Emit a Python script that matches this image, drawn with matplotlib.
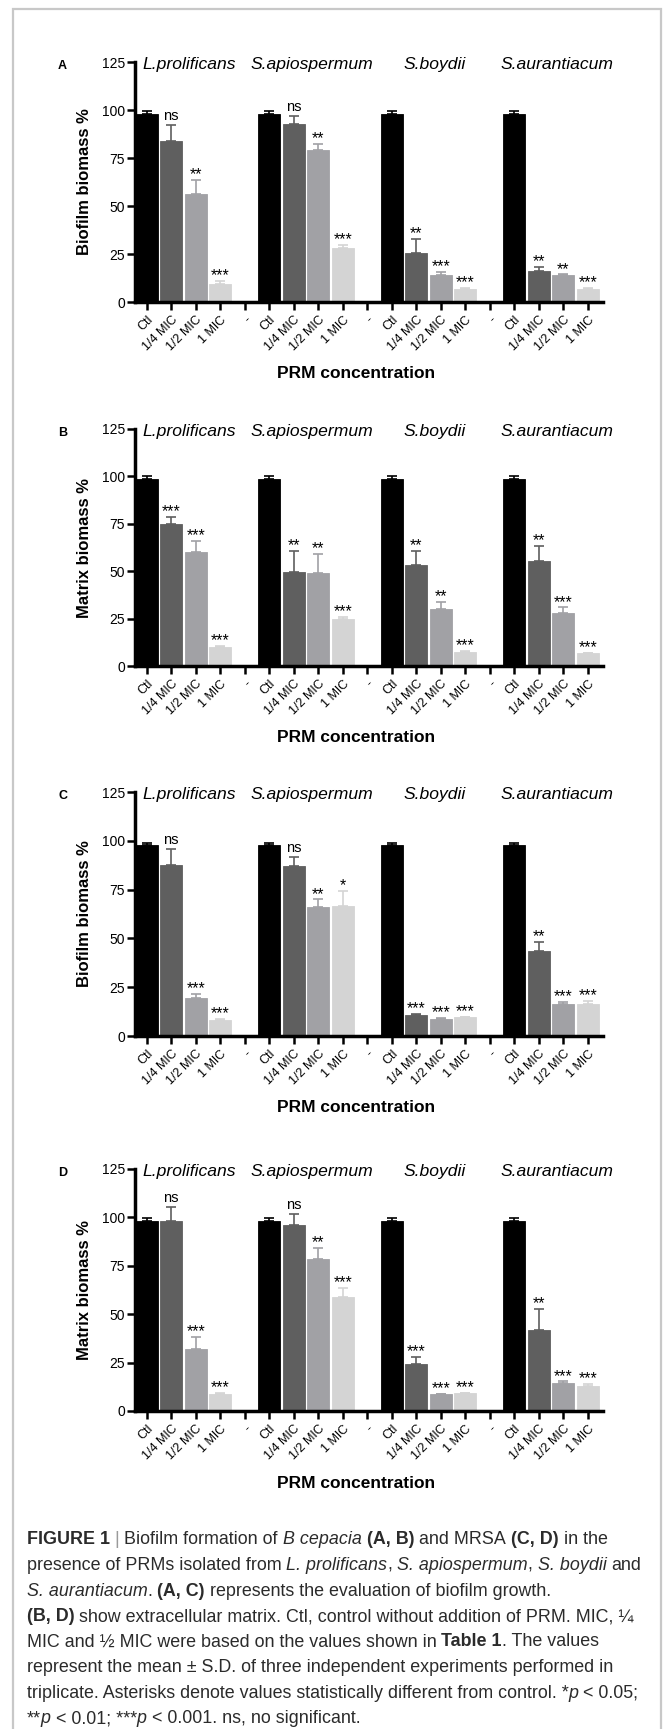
import matplotlib
matplotlib.use("Agg")
import matplotlib.pyplot as plt
from matplotlib.patches import Rectangle

plt.rcParams['font.family'] = ['Liberation Sans', 'DejaVu Sans']

W, H = 663, 1729

species = ["L.prolificans", "S.apiospermum", "S.boydii", "S.aurantiacum"]
conc = ["Ctl", "1/4 MIC", "1/2 MIC", "1 MIC"]
tick_labels = conc + ["-"] + conc + ["-"] + conc + ["-"] + conc
bar_colors = ["#000000", "#5f5f5f", "#a1a1a5", "#d4d4d4"]

# A: biofilm, B. cepacia
a_mean = [[97.7, 83.7, 56.1, 9.5], [97.7, 92.9, 79.3, 28.3],
          [97.7, 25.7, 14.2, 6.9], [97.7, 16.1, 13.9, 6.9]]
a_err = [[1.6, 8.7, 7.6, 1.3], [1.6, 3.8, 3.2, 1.6],
         [1.6, 7.3, 1.4, 0.4], [1.6, 2.1, 0.5, 0.3]]
a_sig = [["", "ns", "**", "***"], ["", "ns", "**", "***"],
         ["", "**", "***", "***"], ["", "**", "**", "***"]]

# B: matrix, B. cepacia
b_mean = [[98.6, 74.9, 60.3, 10.0], [98.6, 49.7, 49.0, 24.7],
          [98.6, 53.1, 30.1, 7.4], [98.6, 55.4, 27.7, 6.7]]
b_err = [[1.4, 3.6, 5.6, 0.4], [1.4, 11.1, 9.9, 1.2],
         [1.4, 7.4, 3.8, 0.4], [1.4, 7.9, 3.2, 0.4]]
b_sig = [["", "***", "***", "***"], ["", "**", "**", "***"],
         ["", "**", "**", "***"], ["", "**", "***", "***"]]

# C: biofilm, MRSA
c_mean = [[97.6, 87.7, 19.5, 8.4], [97.6, 87.2, 66.1, 66.4],
          [97.6, 11.0, 8.9, 9.6], [97.6, 43.5, 16.4, 16.4]]
c_err = [[1.5, 8.0, 1.9, 0.5], [1.5, 4.4, 3.9, 8.1],
         [1.5, 0.2, 0.2, 0.2], [1.5, 4.6, 1.1, 1.6]]
c_sig = [["", "ns", "***", "***"], ["", "ns", "**", "*"],
         ["", "***", "***", "***"], ["", "**", "***", "***"]]

# D: matrix, MRSA
d_mean = [[98.3, 98.3, 32.2, 8.8], [98.3, 96.2, 78.3, 59.1],
          [98.3, 24.1, 8.6, 9.3], [98.3, 42.0, 14.3, 13.1]]
d_err = [[1.6, 7.2, 6.2, 0.7], [1.6, 5.7, 6.1, 4.4],
         [1.6, 4.0, 0.2, 0.2], [1.6, 10.9, 1.0, 0.8]]
d_sig = [["", "ns", "***", "***"], ["", "ns", "**", "***"],
         ["", "***", "***", "***"], ["", "**", "***", "***"]]

panels = [
    ("A", "Biofilm biomass %", a_mean, a_err, a_sig, 62, 302),
    ("B", "Matrix biomass %", b_mean, b_err, b_sig, 429, 666),
    ("C", "Biofilm biomass %", c_mean, c_err, c_sig, 792, 1036),
    ("D", "Matrix biomass %", d_mean, d_err, d_sig, 1169, 1411),
]

fig = plt.figure(figsize=(W / 100, H / 100), dpi=100)

# light grey frame round the figure panels
fig.patches.append(Rectangle((12.7 / W, -0.01), (661 - 12.7) / W, 1 - 9 / H + 0.01,
                             transform=fig.transFigure, fill=False,
                             edgecolor="#c8c8c8", linewidth=1.6))

left, right = 134.5, 602.5
for letter, ylab, means, errs, sigs, ytop, ybot in panels:
    ax = fig.add_axes([left / W, 1 - ybot / H, (right - left) / W, (ybot - ytop) / H])
    for g in range(4):
        for k in range(4):
            x = g * 5 + k
            m = means[g][k]
            e = errs[g][k]
            col = bar_colors[k]
            ax.bar(x, m, width=0.9, color=col, edgecolor=col, linewidth=0.6, zorder=2)
            ax.errorbar(x, m, yerr=[[0], [e]], fmt="none", ecolor=col,
                        elinewidth=1.2, capsize=3.6, capthick=1.2, zorder=1)
            s = sigs[g][k]
            if s:
                if "*" in s:
                    ax.annotate(s, (x, m + e), xytext=(0, 0.5), textcoords="offset points",
                                ha="center", va="baseline", fontsize=11.5)
                else:
                    ax.annotate(s, (x, m + e), xytext=(0, 3.5), textcoords="offset points",
                                ha="center", va="baseline", fontsize=10.5)
        ax.text(g * 5 + 1.75, 123.5, species[g], ha="center", va="center",
                fontsize=12.6, fontstyle="italic")

    ax.set_xlim(-0.5, 18.6)
    ax.set_ylim(0, 125)
    ax.set_yticks([0, 25, 50, 75, 100, 125])
    ax.set_xticks(range(19))
    ax.set_xticklabels(tick_labels, rotation=45, ha="right", rotation_mode="anchor",
                       fontsize=9)
    ax.tick_params(axis="both", width=1.8, length=5.5, labelsize=10, pad=1.5)
    ax.tick_params(axis="x", labelsize=9, pad=3)
    for sp in ["top", "right"]:
        ax.spines[sp].set_visible(False)
    for sp in ["left", "bottom"]:
        ax.spines[sp].set_linewidth(2.5)

    ax.set_ylabel(ylab, fontsize=12, fontweight="bold")
    ax.yaxis.set_label_coords((84.6 - left) / (right - left), 0.5)
    ax.set_xlabel("PRM concentration", fontsize=12.5, fontweight="bold")
    ax.xaxis.set_label_coords((356.4 - left) / (right - left), -72 / (ybot - ytop))
    ax.xaxis.label.set_va("center")
    ax.yaxis.label.set_va("center")

    fig.text(62.6 / W, 1 - (ytop + 4) / H, letter, fontsize=9, fontweight="bold",
             ha="center", va="center")

# caption with mixed styles
caption = [
    [("FIGURE 1", "b"), (" | ", ""), ("Biofilm formation of ", ""), ("B cepacia", "i"),
     (" ", ""), ("(A, B)", "b"), (" and MRSA ", ""), ("(C, D)", "b"), (" in the", "")],
    [("presence of PRMs isolated from ", ""), ("L. prolificans", "i"), (", ", ""),
     ("S. apiospermum", "i"), (", ", ""), ("S. boydii", "i"), (" and", "")],
    [("S. aurantiacum", "i"), (". ", ""), ("(A, C)", "b"),
     (" represents the evaluation of biofilm growth.", "")],
    [("(B, D)", "b"), (" show extracellular matrix. Ctl, control without addition of PRM. MIC, \u00bc", "")],
    [("MIC and \u00bd MIC were based on the values shown in ", ""), ("Table 1", "b"),
     (". The values", "")],
    [("represent the mean \u00b1 S.D. of three independent experiments performed in", "")],
    [("triplicate. Asterisks denote values statistically different from control. *", ""),
     ("p", "i"), (" < 0.05;", "")],
    [("**", ""), ("p", "i"), (" < 0.01; ***", ""), ("p", "i"), (" < 0.001. ns, no significant.", "")],
]
caption_y = [1540, 1565.5, 1591, 1616.5, 1642, 1667.5, 1693, 1718.5]

renderer = fig.canvas.get_renderer()
cap_size = 12.9


def width_of(txt, style):
    t = fig.text(0, 0, txt, fontsize=cap_size,
                 fontweight="bold" if "b" in style else "normal",
                 fontstyle="italic" if "i" in style else "normal")
    w = t.get_window_extent(renderer=renderer).width
    t.remove()
    return w


space_w = width_of("a a", "") - width_of("aa", "")

for segs, yy in zip(caption, caption_y):
    x = 26.7
    for txt, style in segs:
        core = txt.strip(" ")
        if not core:
            x += len(txt) * space_w
            continue
        lead = len(txt) - len(txt.lstrip(" "))
        trail = len(txt) - len(txt.rstrip(" "))
        x += lead * space_w
        col = "#9a9a9a" if core == "|" else "#2b2b2b"
        fig.text(x / W, 1 - yy / H, core, fontsize=cap_size, color=col,
                 fontweight="bold" if "b" in style else "normal",
                 fontstyle="italic" if "i" in style else "normal",
                 ha="left", va="center")
        x += width_of(core, style)
        x += trail * space_w

fig.savefig("out.png", dpi=100)
